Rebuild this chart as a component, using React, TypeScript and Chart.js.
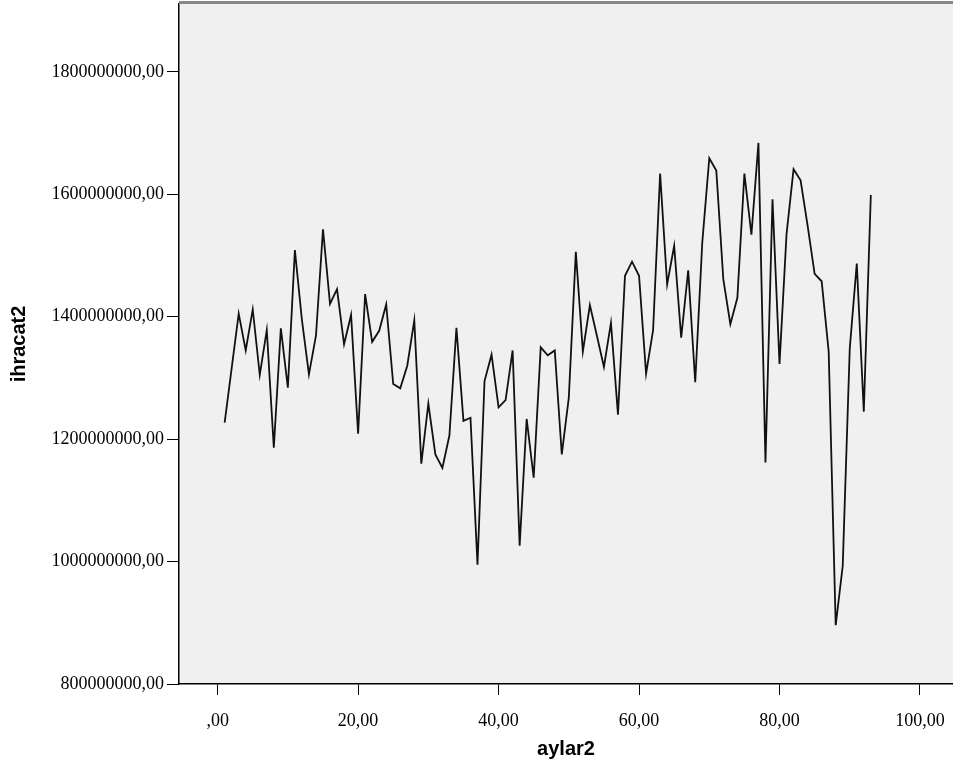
import React, { useEffect, useRef } from "react";
import { Chart, registerables } from "chart.js";

Chart.register(...registerables);

const aylar2: number[] = [
  1, 2, 3, 4, 5, 6, 7, 8, 9, 10, 11, 12, 13, 14, 15, 16, 17, 18, 19, 20,
  21, 22, 23, 24, 25, 26, 27, 28, 29, 30, 31, 32, 33, 34, 35, 36, 37, 38, 39, 40,
  41, 42, 43, 44, 45, 46, 47, 48, 49, 50, 51, 52, 53, 54, 55, 56, 57, 58, 59, 60,
  61, 62, 63, 64, 65, 66, 67, 68, 69, 70, 71, 72, 73, 74, 75, 76, 77, 78, 79, 80,
  81, 82, 83, 84, 85, 86, 87, 88, 89, 90, 91, 92, 93,
];

// ihracat2 values in millions
const ihracat2Millions: number[] = [
  1227, 1316, 1405, 1345, 1412, 1305, 1378, 1186, 1381, 1284,
  1509, 1395, 1306, 1369, 1543, 1421, 1445, 1355, 1403, 1209,
  1437, 1359, 1377, 1420, 1290, 1283, 1320, 1394, 1160, 1258,
  1175, 1153, 1206, 1382, 1230, 1235, 995, 1295, 1338, 1252,
  1264, 1345, 1026, 1233, 1137, 1350, 1337, 1345, 1175, 1268,
  1506, 1343, 1419, 1369, 1318, 1390, 1240, 1467, 1490, 1467,
  1307, 1378, 1634, 1453, 1516, 1366, 1476, 1293, 1521, 1659,
  1639, 1461, 1388, 1431, 1634, 1534, 1684, 1162, 1592, 1323,
  1535, 1641, 1623, 1549, 1470, 1458, 1343, 896, 993, 1348,
  1487, 1245, 1599,
];

const xTicks: number[] = [0, 20, 40, 60, 80, 100];
const yTicks: number[] = [800000000, 1000000000, 1200000000, 1400000000, 1600000000, 1800000000];

const W = 953;
const H = 767;

const bgPlugin = {
  id: "spssBg",
  beforeDraw(chart: any) {
    const { ctx, chartArea } = chart;
    ctx.save();
    ctx.fillStyle = "#f0f0f0";
    ctx.fillRect(chartArea.left, chartArea.top, chartArea.right - chartArea.left, chartArea.bottom - chartArea.top);
    ctx.restore();
  },
  afterDraw(chart: any) {
    const { ctx, chartArea } = chart;
    ctx.save();
    ctx.strokeStyle = "#888888";
    ctx.lineWidth = 3;
    ctx.beginPath();
    ctx.moveTo(chartArea.left, chartArea.top - 1.5);
    ctx.lineTo(chartArea.right, chartArea.top - 1.5);
    ctx.stroke();
    ctx.restore();
  },
};

export default function App() {
  const ref = useRef<HTMLCanvasElement | null>(null);

  useEffect(() => {
    if (!ref.current) return;
    const data = aylar2.map((x, i) => ({ x, y: ihracat2Millions[i] * 1000000 }));
    const tickFont = { family: "'Liberation Serif', serif", size: 18 };
    const chart = new Chart(ref.current, {
      type: "line",
      data: {
        datasets: [
          {
            data,
            borderColor: "#111111",
            borderWidth: 1.8,
            pointRadius: 0,
            tension: 0,
            fill: false,
          },
        ],
      },
      options: {
        animation: false,
        responsive: false,
        maintainAspectRatio: false,
        layout: { padding: { top: 4, left: 0, right: 0, bottom: 0 } },
        plugins: {
          legend: { display: false },
          tooltip: { enabled: false },
        },
        scales: {
          x: {
            type: "linear",
            min: -5.5,
            max: 104.7,
            afterBuildTicks: (scale: any) => {
              scale.ticks = xTicks.map((v) => ({ value: v }));
            },
            afterFit: (scale: any) => {
              scale.height = 83;
              scale.paddingLeft = 0;
              scale.paddingRight = 0;
            },
            grid: {
              display: true,
              drawOnChartArea: false,
              drawTicks: true,
              tickLength: 11,
              tickColor: "#000000",
            },
            border: { display: true, color: "#000000", width: 1.5 },
            ticks: {
              color: "#000000",
              font: tickFont,
              padding: 15,
              maxRotation: 0,
              autoSkip: false,
              callback: (v: any) => (Number(v) === 0 ? ",00" : Number(v).toFixed(0) + ",00"),
            },
            title: {
              display: true,
              text: "aylar2",
              color: "#000000",
              font: { family: "'Liberation Sans', Arial, sans-serif", size: 20, weight: "bold" },
              padding: { top: 0, bottom: 6 },
            },
          },
          y: {
            type: "linear",
            min: 800000000,
            max: 1911000000,
            afterBuildTicks: (scale: any) => {
              scale.ticks = yTicks.map((v) => ({ value: v }));
            },
            afterFit: (scale: any) => {
              scale.width = 179;
              scale.paddingTop = 0;
              scale.paddingBottom = 0;
            },
            grid: {
              display: true,
              drawOnChartArea: false,
              drawTicks: true,
              tickLength: 12,
              tickColor: "#000000",
            },
            border: { display: true, color: "#000000", width: 1.5 },
            ticks: {
              color: "#000000",
              font: tickFont,
              padding: 3,
              autoSkip: false,
              callback: (v: any) => Number(v).toFixed(0) + ",00",
            },
            title: {
              display: true,
              text: "ihracat2",
              color: "#000000",
              font: { family: "'Liberation Sans', Arial, sans-serif", size: 20, weight: "bold" },
              padding: { top: 7, bottom: 0 },
            },
          },
        },
      },
      plugins: [bgPlugin],
    } as any);
    return () => chart.destroy();
  }, []);

  return (
    <div style={{ position: "fixed", left: 0, top: 0, width: W, height: H, background: "#ffffff" }}>
      <canvas ref={ref} width={W} height={H} style={{ width: W, height: H, display: "block" }} />
    </div>
  );
}
